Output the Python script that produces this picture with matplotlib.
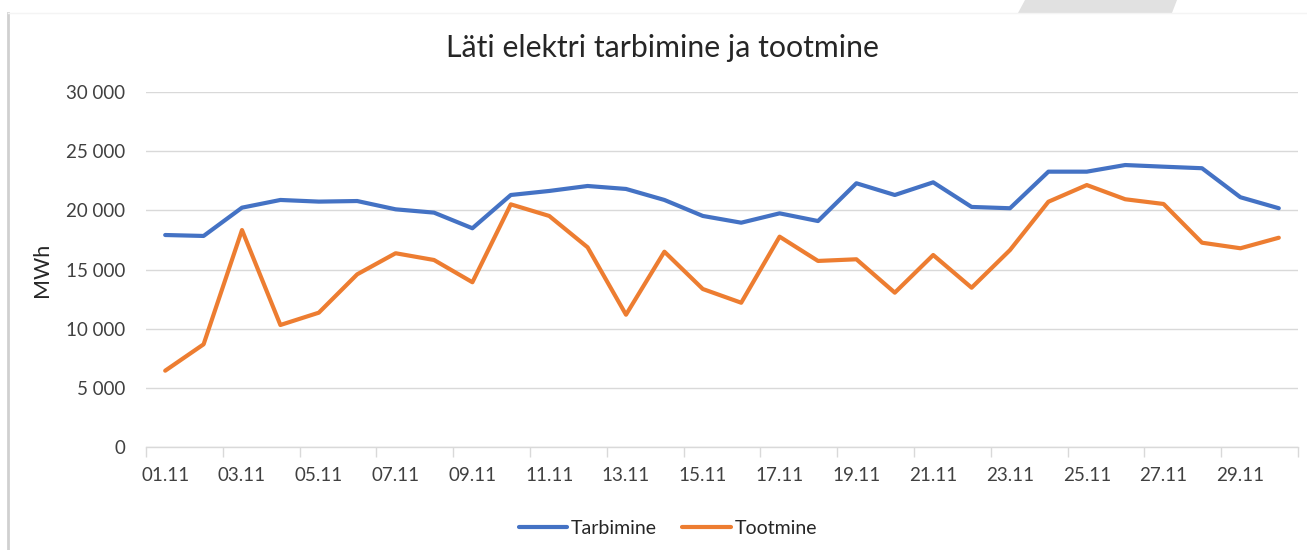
import matplotlib
matplotlib.use("Agg")
import matplotlib.pyplot as plt
from matplotlib.lines import Line2D
from matplotlib.patches import Polygon
from matplotlib.ticker import FuncFormatter

plt.rcParams['font.family'] = ['Lato', 'DejaVu Sans']

days = [f"{d:02d}.11" for d in range(1, 31)]
tarbimine = [17930, 17850, 20240, 20890, 20750, 20800, 20100, 19820, 18500, 21310,
             21650, 22070, 21820, 20890, 19540, 18970, 19760, 19110, 22300, 21310,
             22380, 20300, 20190, 23280, 23280, 23840, 23700, 23570, 21120, 20190]
tootmine = [6470, 8700, 18350, 10330, 11370, 14610, 16390, 15820, 13940, 20520,
            19540, 16890, 11200, 16520, 13370, 12210, 17790, 15740, 15880, 13060,
            16240, 13480, 16660, 20740, 22150, 20950, 20550, 17280, 16810, 17700]
title = "Läti elektri tarbimine ja tootmine"
ylabel = "MWh"
series_names = ["Tarbimine", "Tootmine"]
yticks = [0, 5000, 10000, 15000, 20000, 25000, 30000]

W, H = 1307, 550
fig = plt.figure(figsize=(W / 100, H / 100), dpi=100)
ax = fig.add_axes([146 / W, 1 - 447.3 / H, (1298 - 146) / W, (447.3 - 92.1) / H])

x = list(range(len(days)))
l1, = ax.plot(x, tarbimine, color="#4472C4", lw=3, solid_capstyle="round", solid_joinstyle="round", label=series_names[0])
l2, = ax.plot(x, tootmine, color="#ED7D31", lw=3, solid_capstyle="round", solid_joinstyle="round", label=series_names[1])

ax.set_xlim(-0.5, len(days) - 0.5)
ax.set_ylim(0, 30000)
ax.set_yticks(yticks)
ax.yaxis.set_major_formatter(FuncFormatter(lambda v, p: f"{int(v):,}".replace(",", " ")))
ax.grid(axis="y", color="#d9d9d9", lw=1)
ax.set_axisbelow(True)
ax.tick_params(axis="y", length=0, pad=15, labelsize=13.5, labelcolor="#404040")

ax.set_xticks([i - 0.5 for i in range(0, len(days) + 1, 2)])
ax.set_xticklabels([])
ax.set_xticks(x[::2], minor=True)
ax.set_xticklabels(days[::2], minor=True)
ax.tick_params(axis="x", which="major", length=7, color="#d9d9d9", width=1)
ax.tick_params(axis="x", which="minor", length=0, pad=14, labelsize=13.5, labelcolor="#404040")

for s in ["top", "right", "left"]:
    ax.spines[s].set_visible(False)
ax.spines["bottom"].set_color("#d9d9d9")
ax.spines["bottom"].set_linewidth(1)

ax.set_ylabel(ylabel, fontsize=15.5, color="#262626", labelpad=10)
fig.text(662 / W, 1 - 48 / H, title, ha="center", va="center", fontsize=21.8, color="#262626")

leg = fig.legend(handles=[l1, l2], loc="center", bbox_to_anchor=(668 / W, 1 - 528 / H), ncol=2,
                 frameon=False, fontsize=14, handlelength=2.5, columnspacing=1.3, handletextpad=0.2)
for t in leg.get_texts():
    t.set_color("#262626")

# decorative page elements
fig.add_artist(Line2D([7.5 / W, 7.5 / W], [0, 1 - 13 / H], transform=fig.transFigure, color="#d0d0d0", lw=2))
fig.add_artist(Line2D([7.5 / W, 1], [1 - 13 / H, 1 - 13 / H], transform=fig.transFigure, color="#f4f4f4", lw=1))
fig.add_artist(Polygon([(1025 / W, 1), (1177 / W, 1), (1172 / W, 1 - 13 / H), (1018 / W, 1 - 13 / H)],
                       closed=True, transform=fig.transFigure, facecolor="#e1e1e1", edgecolor="none"))

fig.savefig("out.png", dpi=100)
